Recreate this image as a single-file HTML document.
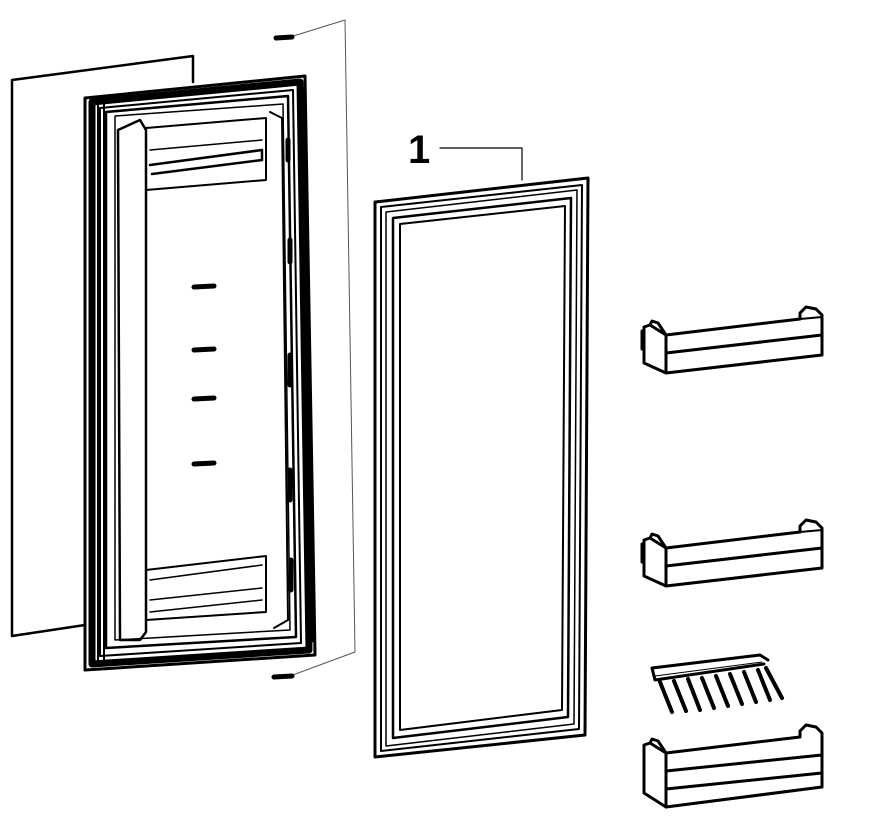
<!DOCTYPE html>
<html><head><meta charset="utf-8"><style>html,body{margin:0;padding:0;background:#fff}svg{display:block}</style></head>
<body>
<svg width="896" height="827" viewBox="0 0 896 827" xmlns="http://www.w3.org/2000/svg" fill="none" stroke="#000" stroke-linejoin="round" stroke-linecap="round">
<defs>
<g id="bin">
<path d="M4,22 L4,58 L26,68 L26,30 L10,20 Z" stroke-width="3" fill="#fff"/>
<path d="M2,26 L2,44" stroke-width="3"/>
<path d="M10,20 L12,16 L18,18 L26,30" stroke-width="3"/>
<path d="M26,30 L160,14 L160,8 L166,2 L176,4 L182,10 L182,50 L26,68" stroke-width="3"/>
<path d="M26,48 L182,30" stroke-width="3"/>
<path d="M160,14 L182,12" stroke-width="2"/>
</g>
</defs>
<path d="M12,80 L193,56 L193,82 M12,80 L12,636 L85,625" stroke-width="2.5"/>
<path d="M290,37 L345,20 L355,652 L290,676" stroke-width="1" stroke="#555"/>
<path d="M276,38 L292,37" stroke-width="5"/>
<path d="M274,677 L292,676" stroke-width="5"/>
<path d="M85,98 L305,76 L315,655 L85,670 Z" stroke-width="3" fill="#fff"/>
<path d="M92,102 L300,82 L309,650 L92,664 Z" stroke-width="7"/>
<path d="M303,90 L311,640" stroke-width="6"/>
<path d="M100,108 L293,90 L301,643 L100,656 Z" stroke-width="2"/>
<path d="M106,112 L288,96 L296,637 L106,648 Z" stroke-width="2.5"/>
<path d="M115,116 L283,104 L290,630 L115,640 Z" stroke-width="1.5"/>
<path d="M98,102 L98,664 M104,104 L104,660" stroke-width="2"/>
<path d="M118,130 L140,120 L146,130 L146,632 L140,640 L120,640 Z" stroke-width="2.5"/>
<path d="M146,128 L266,118 L266,180 L146,190" stroke-width="2"/>
<path d="M150,165 L262,150 L262,160 L152,174" stroke-width="2.5"/>
<path d="M150,150 L262,140" stroke-width="1.5"/>
<path d="M146,570 L266,556 L266,612 L146,620" stroke-width="2"/>
<path d="M150,580 L262,565 M150,600 L262,588 M150,612 L262,600" stroke-width="1.5"/>
<path d="M270,112 L282,118 L288,620 L274,628" stroke-width="2"/>
<g stroke-width="5">
<path d="M194,287 L214,286 M194,350 L214,349 M194,399 L214,398 M194,464 L214,463"/>
<path d="M288,140 L288,160 M290,240 L290,262 M290,355 L290,385 M290,470 L290,500 M291,560 L291,590"/>
</g>
<path d="M375,202 L588,178 L585,735 L375,757 Z" stroke-width="3"/>
<path d="M381,207 L582,185 L579,729 L381,751 Z" stroke-width="2"/>
<path d="M386,212 L577,190 L574,724 L386,746 Z" stroke-width="1.5"/>
<path d="M393,218 L571,198 L568,717 L393,738 Z" stroke-width="2.5"/>
<path d="M400,224 L565,206 L562,710 L400,730 Z" stroke-width="2"/>
<text x="408" y="163" font-family="Liberation Sans, sans-serif" font-size="40" font-weight="bold" fill="#000" stroke="none">1</text>
<path d="M440,148 L522,148 L522,180" stroke-width="1.2"/>
<use href="#bin" x="640" y="305"/>
<use href="#bin" x="640" y="518"/>
<g transform="translate(640,723)">
<path d="M4,22 L4,70 L26,84 L26,30 L10,20 Z" stroke-width="3" fill="#fff"/>
<path d="M10,20 L12,16 L18,18 L26,30" stroke-width="3"/>
<path d="M26,30 L160,14 L160,8 L166,2 L176,4 L182,10 L182,64 L26,84" stroke-width="3"/>
<path d="M26,48 L182,32 M26,66 L182,50" stroke-width="3"/>
</g>
<path d="M652,668 L760,655 L768,660 M652,668 L655,680 L764,664" stroke-width="3"/>
<path d="M655,676 L762,662" stroke-width="1"/>
<g stroke-width="4">
<path d="M660,682 L672,712 M674,681 L686,711 M688,679 L700,710 M702,678 L714,708 M716,676 L728,706 M730,674 L742,704 M744,672 L756,702 M758,670 L770,700 M766,668 L782,698"/>
</g>
</svg>
</body></html>
